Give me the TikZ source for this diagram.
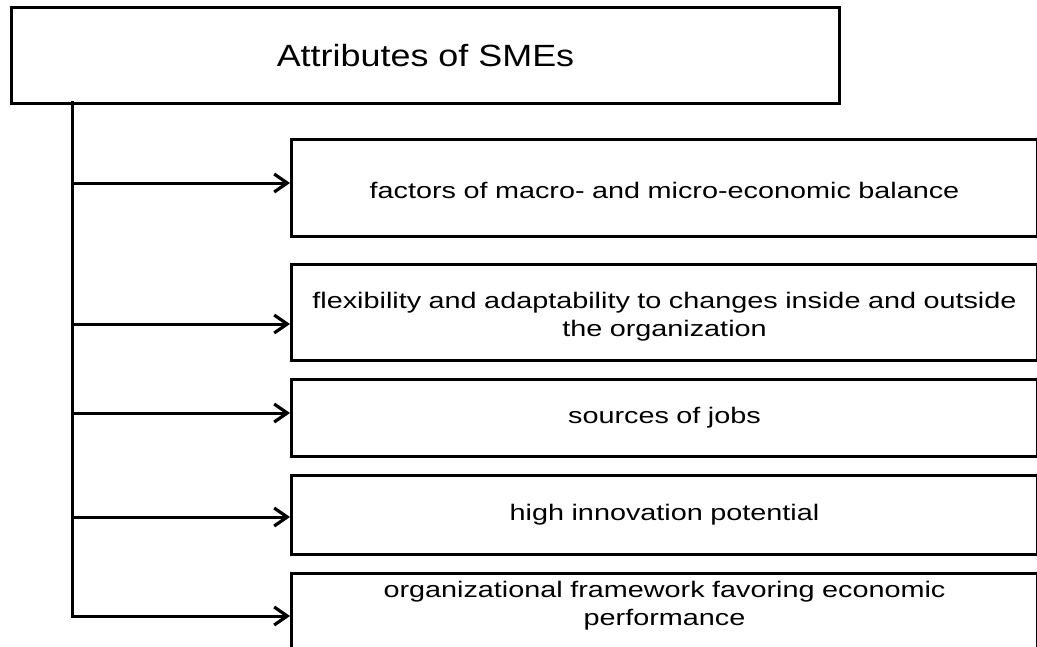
\documentclass[tikz,border=0pt]{standalone}
\usepackage{fontspec}
\setmainfont[FakeStretch=1.28, WordSpace=1.45]{Liberation Sans}
\newfontfamily\titlefont[FakeStretch=1.17]{Liberation Sans}
\usetikzlibrary{arrows.meta}
\begin{document}
\begin{tikzpicture}[x=1pt, y=-1pt,
  frame/.style={draw=black, line width=3pt, rectangle, inner sep=0pt},
  itembox/.style={frame, anchor=north west, minimum width=746pt},
  itemtext/.style={align=center, text width=740pt, font=\fontsize{22.5}{28}\selectfont},
  feed/.style={line width=3pt, -{Straight Barb[length=13pt, width=18pt, line width=3.2pt]}}
]
\useasboundingbox (0,0) rectangle (1037,646);
\clip (0,0) rectangle (1037,646);

% heading
\node[frame, anchor=north west, minimum width=828pt, minimum height=96pt,
      font=\titlefont\fontsize{30.7}{34}\selectfont] (title) at (10,6) {Attributes of SMEs};

% attribute boxes
\node[itembox, minimum height=97pt] (b1) at (290,138) {};
\node[itemtext] (t1) at ([yshift=-2pt]b1.center) {factors of macro- and micro-economic balance};
\node[itembox, minimum height=96pt] (b2) at (290,263) {};
\node[itemtext] (t2) at ([yshift=-4pt]b2.center) {flexibility and adaptability to changes inside and outside\\ the organization};
\node[itembox, minimum height=77pt] (b3) at (290,378) {};
\node[itemtext] (t3) at (b3.center) {sources of jobs};
\node[itembox, minimum height=79pt] (b4) at (290,474) {};
\node[itemtext] (t4) at (b4.center) {high innovation potential};
\node[itembox, minimum height=110pt] (b5) at (290,572) {};
\node[itemtext] (t5) at ([yshift=-34pt]b5.north) {organizational framework favoring economic\\ performance};

% trunk and branches
\coordinate (top) at (72,102);
\coordinate (a1) at (72,183);
\coordinate (a2) at (72,324);
\coordinate (a3) at (72,413);
\coordinate (a4) at (72,517);
\coordinate (a5) at (72,616);

\draw[feed, line cap=rect] (top) |- (a5 -| b5.west);
\draw[feed] (a1) -- (a1 -| b1.west);
\draw[feed] (a2) -- (a2 -| b2.west);
\draw[feed] (a3) -- (a3 -| b3.west);
\draw[feed] (a4) -- (a4 -| b4.west);
\end{tikzpicture}
\end{document}
